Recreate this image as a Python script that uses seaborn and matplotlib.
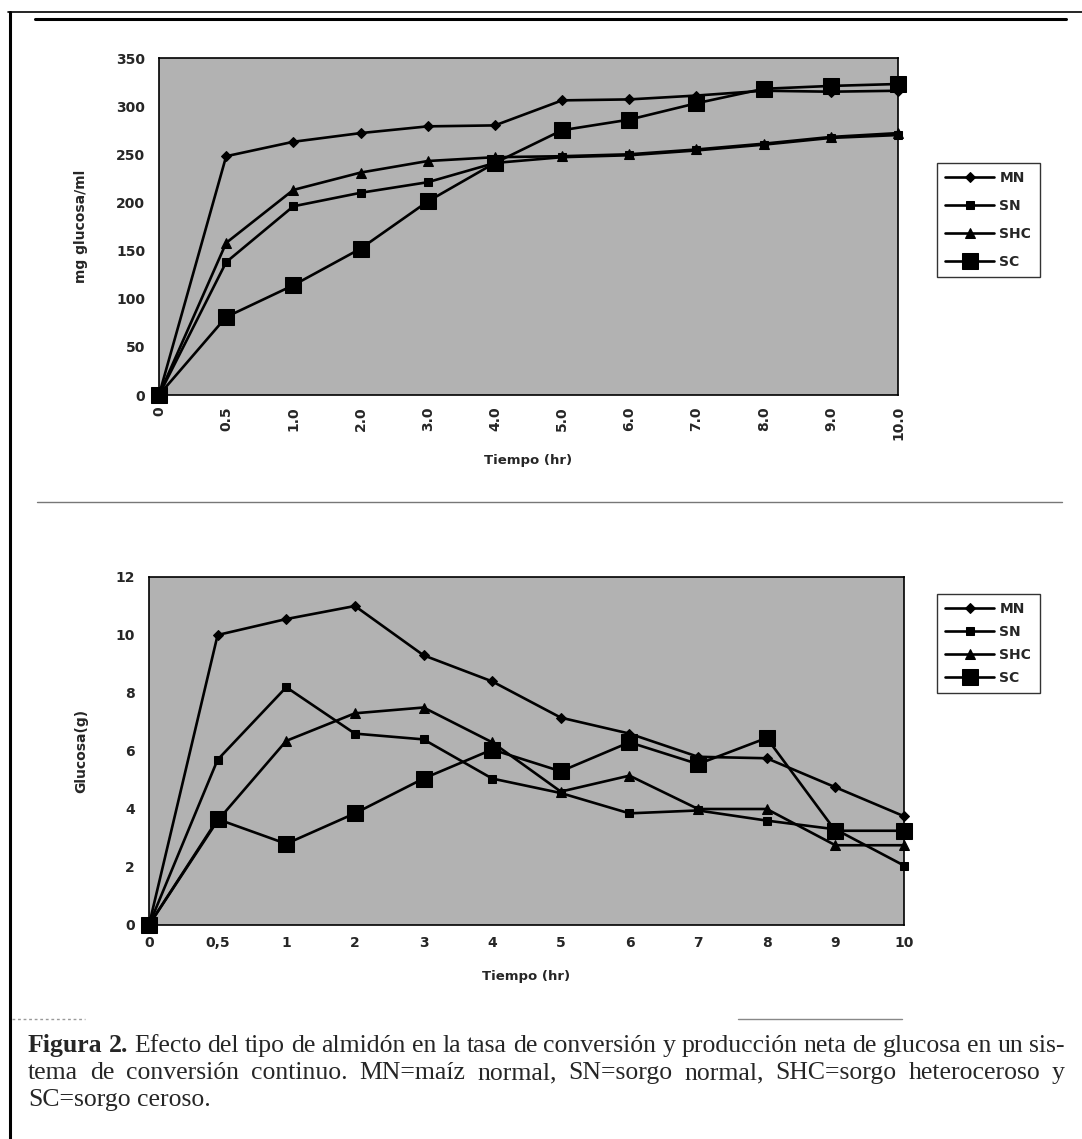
import matplotlib
matplotlib.use("Agg")
import matplotlib.pyplot as plt
from matplotlib.lines import Line2D
import seaborn as sns

W, H = 1082, 1139

# x categories (Excel category axis, evenly spaced)
cats_top = ["0", "0.5", "1.0", "2.0", "3.0", "4.0", "5.0", "6.0", "7.0", "8.0", "9.0", "10.0"]
cats_bot = ["0", "0,5", "1", "2", "3", "4", "5", "6", "7", "8", "9", "10"]

# upper chart: mg glucosa/ml
mn_top = [0, 248, 263, 272, 279, 280, 306, 307, 311, 316, 315, 316]
sn_top = [0, 138, 196, 210, 221, 241, 247, 249, 254, 260, 267, 270]
shc_top = [0, 158, 213, 231, 243, 247, 248, 250, 255, 261, 268, 272]
sc_top = [0, 81, 114, 152, 201, 241, 275, 286, 303, 318, 321, 323]

# lower chart: Glucosa (g)
mn_bot = [0, 10.0, 10.55, 11.0, 9.3, 8.4, 7.15, 6.6, 5.8, 5.75, 4.75, 3.75]
sn_bot = [0, 5.7, 8.2, 6.6, 6.4, 5.05, 4.55, 3.85, 3.95, 3.6, 3.3, 2.05]
shc_bot = [0, 3.6, 6.35, 7.3, 7.5, 6.3, 4.6, 5.15, 4.0, 4.0, 2.75, 2.75]
sc_bot = [0, 3.65, 2.8, 3.85, 5.05, 6.05, 5.3, 6.3, 5.55, 6.45, 3.25, 3.25]

series_names = ["MN", "SN", "SHC", "SC"]
marker_style = {"MN": ("D", 5.5), "SN": ("s", 5.5), "SHC": ("^", 7), "SC": ("s", 11)}

sns.set_style("white")
plt.rcParams['font.family'] = ['DejaVu Sans']

fig = plt.figure(figsize=(W / 100, H / 100), dpi=100)


def fx(x):
    return x / W


def fy(y):
    return 1 - y / H


def draw_chart(ax, cats, values, ylim, yticks, ylabel, xrot, leg_xy, leg_spacing, xlab_y, ylab_x):
    pos = list(range(len(cats)))
    for name, vals in zip(series_names, values):
        m, ms = marker_style[name]
        sns.lineplot(x=pos, y=vals, ax=ax, color="black", marker=m, markersize=ms,
                     markeredgecolor="black", linewidth=1.9, label=name, clip_on=False)
    ax.set_facecolor("#b2b2b2")
    ax.set_xlim(0, len(cats) - 1)
    ax.set_ylim(*ylim)
    ax.set_yticks(yticks)
    ax.set_xticks(pos)
    ax.set_xticklabels(cats, rotation=xrot)
    for s in ax.spines.values():
        s.set_color("black")
        s.set_linewidth(1.2)
    ax.tick_params(axis="y", direction="out", length=4, width=1, pad=6, labelsize=10)
    ax.tick_params(axis="x", direction="out", length=3, width=1, pad=5, labelsize=10)
    for lab in ax.get_xticklabels() + ax.get_yticklabels():
        lab.set_fontweight("bold")
    ax.set_xlabel("Tiempo (hr)", fontsize=9.5, fontweight="bold")
    ax.set_ylabel(ylabel, fontsize=10, fontweight="bold")
    ax.xaxis.set_label_coords(0.5, xlab_y)
    ax.yaxis.set_label_coords(ylab_x, 0.5)
    ax.legend(loc="upper left", bbox_to_anchor=leg_xy, bbox_transform=fig.transFigure,
              frameon=True, fancybox=False, edgecolor="#333333", framealpha=1,
              handlelength=3.5, handletextpad=0.4, borderpad=0.6, borderaxespad=0,
              labelspacing=leg_spacing, prop=dict(weight="bold", size=10))


ax1 = fig.add_axes([fx(159), fy(395), fx(898 - 159), (395 - 58) / H])
draw_chart(ax1, cats_top, [mn_top, sn_top, shc_top, sc_top], (0, 350), range(0, 351, 50),
           "mg glucosa/ml", 90, (fx(937), fy(163)), 1.0, -0.175, -0.096)

ax2 = fig.add_axes([fx(149), fy(925), fx(904 - 149), (925 - 577) / H])
draw_chart(ax2, cats_bot, [mn_bot, sn_bot, shc_bot, sc_bot], (0, 12), range(0, 13, 2),
           "Glucosa(g)", 0, (fx(937), fy(594)), 0.64, -0.13, -0.081)

# page frame and separators
fig.add_artist(Line2D([fx(10), fx(10)], [fy(12), fy(1139)], color="black", lw=2.2))
fig.add_artist(Line2D([fx(8), fx(1082)], [fy(12), fy(12)], color="black", lw=1.2))
fig.add_artist(Line2D([fx(35), fx(1066)], [fy(19), fy(19)], color="black", lw=2.2))
fig.add_artist(Line2D([fx(37), fx(1062)], [fy(502), fy(502)], color="#777777", lw=1))
fig.add_artist(Line2D([fx(12), fx(85)], [fy(1019), fy(1019)], color="#999999", lw=1, ls=(0, (2, 2))))
fig.add_artist(Line2D([fx(738), fx(902)], [fy(1019), fy(1019)], color="#888888", lw=1))

# caption, justified like the printed page
renderer = fig.canvas.get_renderer()


def caption_line(text, y, x0, x1=None, bold_words=0, size=18.5):
    words = text.split(" ")
    items = []
    for i, w in enumerate(words):
        t = fig.text(fx(x0), fy(y), w, fontsize=size, family="Liberation Serif",
                     fontweight="bold" if i < bold_words else "normal", va="baseline")
        items.append(t)
    widths = [t.get_window_extent(renderer).width for t in items]
    if x1 is None:
        gap = size * 100 / 72 * 0.25
    else:
        gap = (x1 - x0 - sum(widths)) / (len(words) - 1)
    x = x0
    for t, wd in zip(items, widths):
        t.set_x(fx(x))
        x += wd + gap


caption_line("Figura 2. Efecto del tipo de almidón en la tasa de conversión y producción neta de glucosa en un sis-",
             1052, 28, 1065, bold_words=2)
caption_line("tema de conversión continuo. MN=maíz normal, SN=sorgo normal, SHC=sorgo heteroceroso y",
             1079, 28, 1065)
caption_line("SC=sorgo ceroso.", 1106, 28)

fig.savefig("out.png", dpi=100)
